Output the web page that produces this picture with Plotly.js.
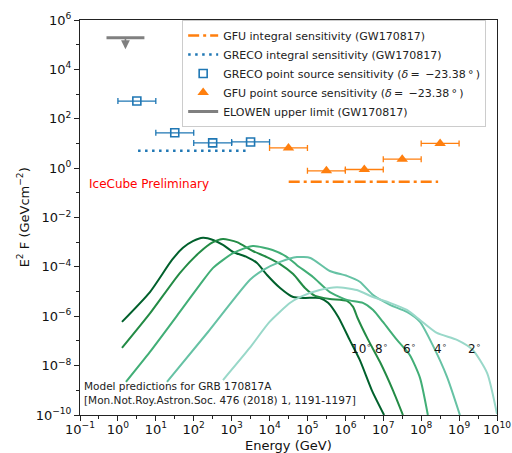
<!DOCTYPE html>
<html><head><meta charset="utf-8">
<script src="https://cdn.plot.ly/plotly-3.0.1.min.js"></script>
<style>html,body{margin:0;padding:0;background:#fff}#chart{width:512px;height:453px}</style>
</head><body><div id="chart"></div>
<script>
// ---------- data ----------
const angleLabels = ['10', '8', '6', '4', '2'];

const model10E = [1.28, 7.0, 26.7, 52, 95, 176, 324, 590, 1090, 2540, 4680, 8600, 1.9e4, 4.2e4, 8.6e4, 2.1e5, 3.5e5, 6.5e5, 1.3e6, 2.4e6, 5.0e6, 1.05e7];
const model10F = [5.9e-7, 9.5e-6, 1.9e-4, 5.9e-4, 1.1e-3, 1.5e-3, 1.23e-3, 7.8e-4, 4.0e-4, 2.5e-4, 1.44e-4, 4.7e-5, 1.4e-5, 6.0e-6, 5.5e-6, 5.5e-6, 3.5e-6, 9.3e-7, 1.1e-7, 1.7e-8, 1.0e-9, 1.0e-10];

const model8E = [1.28, 7.0, 43, 146, 324, 590, 1380, 3630, 8500, 1.9e4, 4.2e4, 8.6e4, 1.6e5, 3.9e5, 1.1e6, 1.6e6, 2.1e6, 4.0e6, 8.2e6, 1.8e7, 3.3e7];
const model8F = [5.2e-8, 1.3e-6, 5.6e-5, 4.0e-4, 1.0e-3, 1.35e-3, 1.0e-3, 4.4e-4, 2.5e-4, 1.3e-4, 5.1e-5, 1.4e-5, 6.7e-6, 5.0e-6, 4.2e-6, 2.4e-6, 8.5e-7, 1.1e-7, 1.4e-8, 1.0e-9, 1.0e-10];

const model6E = [1.63, 7.0, 43, 146, 324, 1090, 3630, 1.2e4, 2.9e4, 5.2e4, 1.4e5, 3.9e5, 1.1e6, 2.9e6, 5.4e6, 9.8e6, 2.3e7, 5.0e7, 9.3e7, 1.5e8];
const model6F = [2.2e-9, 3.6e-8, 1.5e-6, 1.9e-5, 9.1e-5, 3.6e-4, 7.0e-4, 4.8e-4, 2.5e-4, 1.2e-4, 3.9e-5, 9.5e-6, 4.6e-6, 3.5e-6, 1.8e-6, 5.9e-7, 1.1e-7, 2.7e-8, 3.2e-9, 1.0e-10];

const model4E = [19.7, 238, 3050, 6700, 1.9e4, 5.3e4, 1.2e5, 3.9e5, 1.1e6, 2.4e6, 5.4e6, 1.5e7, 4.2e7, 9.3e7, 2.0e8, 4.8e8, 1.05e9];
const model4F = [2.2e-9, 2.3e-7, 3.0e-5, 7.4e-5, 1.6e-4, 2.5e-4, 2.3e-4, 6.8e-5, 4.3e-5, 2.5e-5, 7.2e-6, 2.9e-6, 1.5e-6, 5.9e-7, 6.9e-8, 3.5e-9, 1.0e-10];

const model2E = [592, 3000, 1.0e4, 3.5e4, 6.3e4, 2.1e5, 6.0e5, 2.0e6, 5.4e6, 1.5e7, 4.2e7, 9.3e7, 2.6e8, 8.8e8, 2.3e9, 5.5e9, 1.0e10];
const model2F = [2.6e-9, 5.2e-8, 5.9e-7, 3.5e-6, 6.0e-6, 1.15e-5, 1.5e-5, 1.15e-5, 6.0e-6, 3.5e-6, 1.8e-6, 7.1e-7, 2.1e-7, 1.1e-7, 4.3e-8, 5.0e-9, 1.1e-10];

const grecoPointE  = [3.16, 31.6, 316, 3160];
const grecoPointLo = [1, 10, 100, 1000];
const grecoPointHi = [10, 100, 1000, 10000];
const grecoPointF  = [520, 27, 10.5, 11.5];

const gfuPointE  = [3.16e4, 3.16e5, 3.16e6, 3.16e7, 3.16e8];
const gfuPointLo = [1e4, 1e5, 1e6, 1e7, 1e8];
const gfuPointHi = [1e5, 1e6, 1e7, 1e8, 1e9];
const gfuPointF  = [6.6, 0.78, 0.88, 2.3, 10.0];

const gfuIntegralE = [3.2e4, 2.8e8];
const gfuIntegralF = [0.28, 0.28];

const grecoIntegralE = [3.4, 2500];
const grecoIntegralF = [5.0, 5.0];

const elowenE = [0.5, 5];
const elowenF = [1.9e5, 1.9e5];

const xDecades = [-1, 0, 1, 2, 3, 4, 5, 6, 7, 8, 9, 10];
const yDecades = [6, 5, 4, 3, 2, 1, 0, -1, -2, -3, -4, -5, -6, -7, -8, -9, -10];

// ---------- styling ----------
const FONT = 'DejaVu Sans, Verdana, sans-serif';
const greens = ['#00602c', '#238b45', '#41ae76', '#66c2a4', '#99d8c9'];
const labelPos = [[2.6e6, 5.2e-8], [9.0e6, 5.2e-8], [5.0e7, 5.2e-8], [3.2e8, 5.2e-8], [2.6e9, 5.2e-8]];
const blue = '#1f77b4', orange = '#ff7f0e', gray = '#808080';
const deltaText = '(<i>\u03b4</i>\u2009=\u2002\u221223.38\u2009\u00b0\u2009)';

function pow10Label(d) { return '10<sup>' + (d < 0 ? '\u2212' + (-d) : d) + '</sup>'; }

const models = [[model10E, model10F], [model8E, model8F], [model6E, model6F], [model4E, model4F], [model2E, model2F]];

const traces = [];
models.forEach((m, i) => {
  traces.push({x: m[0], y: m[1], type: 'scatter', mode: 'lines', showlegend: false,
    line: {color: greens[i], width: 2, shape: 'spline', smoothing: 0.6}, hoverinfo: 'skip'});
});

traces.push({x: gfuIntegralE, y: gfuIntegralF, type: 'scatter', mode: 'lines',
  name: 'GFU integral sensitivity (GW170817)',
  line: {color: orange, width: 2.5, dash: '11px,4px,3px,4px'}});
traces.push({x: grecoIntegralE, y: grecoIntegralF, type: 'scatter', mode: 'lines',
  name: 'GRECO integral sensitivity (GW170817)',
  line: {color: blue, width: 2.5, dash: '2.5px,4.5px'}});
traces.push({x: grecoPointE, y: grecoPointF, type: 'scatter', mode: 'markers',
  name: 'GRECO point source sensitivity ' + deltaText,
  marker: {symbol: 'square-open', size: 8, color: blue, line: {width: 1.6, color: blue}},
  error_x: {type: 'data', symmetric: false,
    array: grecoPointE.map((v, i) => grecoPointHi[i] - v),
    arrayminus: grecoPointE.map((v, i) => v - grecoPointLo[i]),
    color: blue, thickness: 1.3, width: 3}});
traces.push({x: gfuPointE, y: gfuPointF, type: 'scatter', mode: 'markers',
  name: 'GFU point source sensitivity ' + deltaText,
  marker: {symbol: 'triangle-up', size: 10, color: orange},
  error_x: {type: 'data', symmetric: false,
    array: gfuPointE.map((v, i) => gfuPointHi[i] - v),
    arrayminus: gfuPointE.map((v, i) => v - gfuPointLo[i]),
    color: orange, thickness: 1.3, width: 3}});
traces.push({x: elowenE, y: elowenF, type: 'scatter', mode: 'lines',
  name: 'ELOWEN upper limit (GW170817)',
  line: {color: gray, width: 3}});

const elowenMid = Math.sqrt(elowenE[0] * elowenE[1]);

const annotations = [
  {xref: 'paper', yref: 'paper', x: 0.017, y: 0.585, xanchor: 'left', yanchor: 'middle',
   text: 'IceCube Preliminary', showarrow: false, font: {family: FONT, size: 12, color: '#ff0000'}},
  {xref: 'paper', yref: 'paper', x: 0.005, y: 0.056, xanchor: 'left', yanchor: 'middle', align: 'left',
   text: 'Model predictions for GRB 170817A<br>[Mon.Not.Roy.Astron.Soc. 476 (2018) 1, 1191-1197]',
   showarrow: false, font: {family: FONT, size: 10.5, color: '#222'}},
  {xref: 'x', yref: 'y', x: Math.log10(elowenMid), y: Math.log10(elowenF[0]) - 0.46,
   ax: 0, ay: -12, axref: 'pixel', ayref: 'pixel', text: '', showarrow: true,
   arrowhead: 2, arrowsize: 1.1, arrowwidth: 1.6, arrowcolor: gray, standoff: 0},
  {xref: 'paper', yref: 'paper', x: 0.5, y: -0.076, xanchor: 'center', yanchor: 'middle',
   text: 'Energy (GeV)', showarrow: false, font: {family: FONT, size: 13, color: '#111'}},
  {xref: 'paper', yref: 'paper', x: -0.137, y: 0.5, xanchor: 'center', yanchor: 'middle', textangle: -90,
   text: 'E<sup>2</sup> F (GeVcm<sup>\u22122</sup>)', showarrow: false, font: {family: FONT, size: 13, color: '#111'}}
];
angleLabels.forEach((t, i) => {
  annotations.push({xref: 'x', yref: 'y', x: Math.log10(labelPos[i][0]), y: Math.log10(labelPos[i][1]),
    text: t + '<sup>\u2218</sup>', showarrow: false, font: {family: FONT, size: 12, color: '#111'}});
});

const axisCommon = {type: 'log', showgrid: false, zeroline: false, showline: true, mirror: true,
  linecolor: '#222', linewidth: 1, ticks: 'outside', ticklen: 5, tickwidth: 1, tickcolor: '#222',
  tickfont: {family: FONT, size: 13, color: '#111'}};

const layout = {
  width: 512, height: 453,
  margin: {l: 80, r: 15, t: 20, b: 38},
  paper_bgcolor: '#fff', plot_bgcolor: '#fff',
  font: {family: FONT, color: '#111'},
  xaxis: Object.assign({}, axisCommon, {
    range: [-1, 10],
    tickvals: xDecades.map(d => Math.pow(10, d)),
    ticktext: xDecades.map(pow10Label),
    ticklabelstandoff: -3,
    minor: {tickvals: xDecades.slice(0, -1).map(d => Math.pow(10, d + 0.5)), ticks: 'outside', ticklen: 3, tickcolor: '#222', showgrid: false}
  }),
  yaxis: Object.assign({}, axisCommon, {
    range: [-10, 6],
    tickvals: yDecades.filter(d => d % 2 === 0).map(d => Math.pow(10, d)),
    ticktext: yDecades.filter(d => d % 2 === 0).map(pow10Label),
    minor: {tickvals: yDecades.filter(d => d % 2 !== 0).map(d => Math.pow(10, d)), ticks: 'outside', ticklen: 3, tickcolor: '#222', showgrid: false}
  }),
  legend: {x: 0.245, y: 1.0, xanchor: 'left', yanchor: 'top',
    bgcolor: 'rgba(255,255,255,0.85)', bordercolor: '#cccccc', borderwidth: 1,
    font: {family: FONT, size: 11, color: '#222'}, tracegroupgap: 0},
  annotations: annotations
};

Plotly.newPlot('chart', traces, layout, {staticPlot: true, displayModeBar: false});
</script>
</body></html>
